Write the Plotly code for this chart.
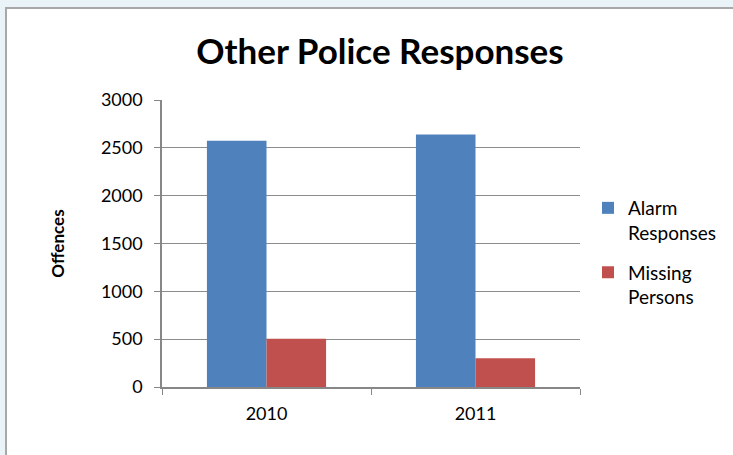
import plotly.graph_objects as go

years = ["2010", "2011"]
alarm_responses = [2575, 2640]
missing_persons = [505, 300]
y_ticks = [0, 500, 1000, 1500, 2000, 2500, 3000]

L, R, T, B = 162, 153, 100, 68
W, H = 733, 455
pw, ph = W - L - R, H - T - B

def px_x(p):
    return (p - L) / pw

def px_y(p):
    return (H - B - p) / ph

FONT = "Lato, Open Sans, sans-serif"

fig = go.Figure()
fig.add_trace(go.Bar(x=years, y=alarm_responses, name="Alarm<br>Responses",
                     legendgroup="a",
                     marker=dict(color="#4f81bd", line=dict(width=0))))
fig.add_trace(go.Bar(x=years, y=missing_persons, name="Missing<br>Persons",
                     legendgroup="b",
                     marker=dict(color="#c0504d", line=dict(width=0))))

fig.add_shape(type="rect", xref="paper", yref="paper",
              x0=px_x(6), x1=px_x(760), y0=px_y(480), y1=px_y(8),
              fillcolor="white", line=dict(color="#a8a8a8", width=2), layer="below")

fig.update_layout(
    width=W, height=H,
    margin=dict(l=L, r=R, t=T, b=B, autoexpand=False),
    paper_bgcolor="#eaf3f7",
    plot_bgcolor="rgba(0,0,0,0)",
    barmode="group",
    bargap=0.43,
    bargroupgap=0,
    font=dict(family=FONT, color="#000000", size=18),
    title=dict(text="<b>Other Police Responses</b>", x=px_x(380), xref="paper",
               xanchor="center", y=1 - 52 / H, yanchor="middle",
               font=dict(size=35, family=FONT, color="#000")),
    legend=dict(x=px_x(588), xanchor="left", y=px_y(189), yanchor="top",
                font=dict(size=19), bgcolor="rgba(0,0,0,0)", valign="top",
                itemwidth=30, tracegroupgap=12, traceorder="grouped"),
    showlegend=True,
)
fig.update_xaxes(type="category", showline=True, linecolor="#878787", linewidth=1.5,
                 ticks="outside", tickson="boundaries", ticklen=6, tickcolor="#878787",
                 tickfont=dict(size=18), showgrid=False, ticklabelstandoff=10)
fig.update_yaxes(range=[0, 3000], tickvals=y_ticks, showline=True, linecolor="#878787",
                 linewidth=1.5, ticks="outside", ticklen=6, tickcolor="#878787",
                 showgrid=True, gridcolor="#8c8c8c", gridwidth=1, zeroline=False,
                 tickfont=dict(size=18), ticklabelstandoff=8,
                 title=dict(text="<b>Offences</b>", font=dict(size=17), standoff=32))

fig.write_html("out.html", config={"displayModeBar": False},
               post_script="document.body.style.margin='0';")
